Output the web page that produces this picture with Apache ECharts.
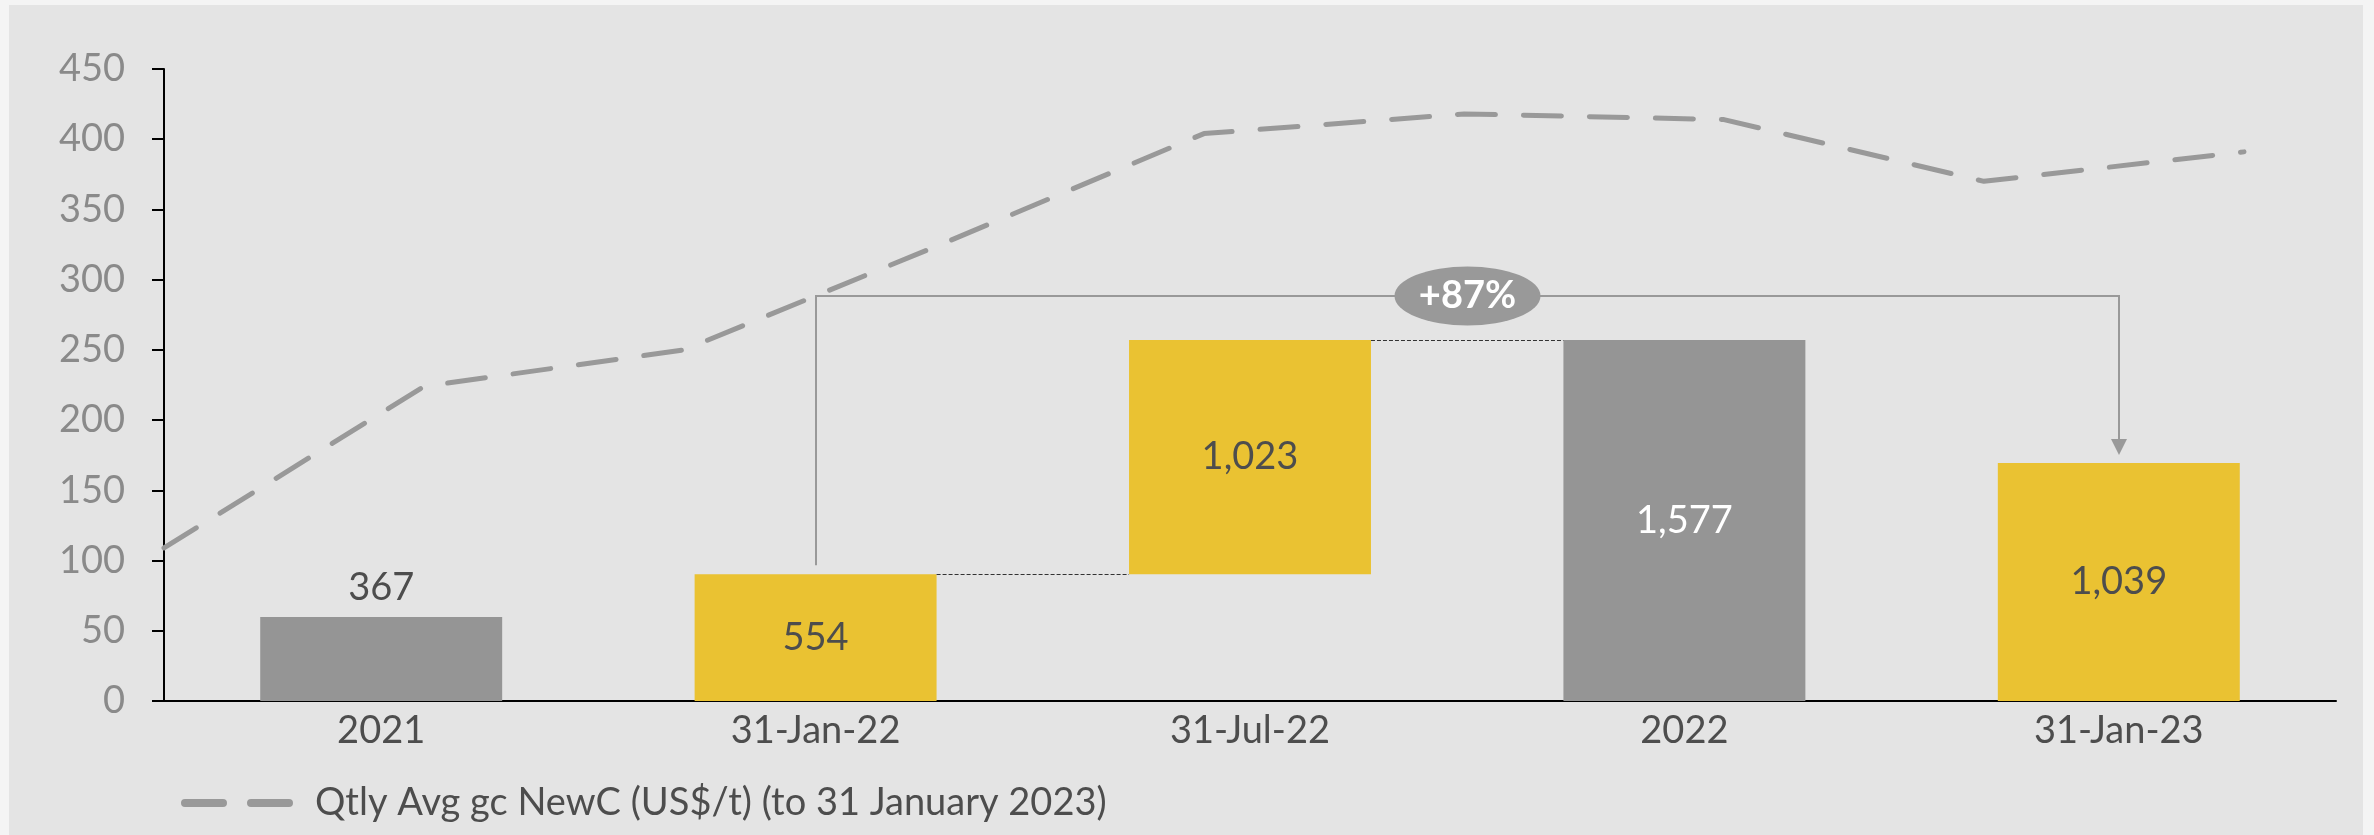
<!DOCTYPE html>
<html>
<head>
<meta charset="utf-8">
<script src="https://cdn.jsdelivr.net/npm/echarts@6/dist/echarts.min.js"></script>
<style>
  html, body { margin: 0; padding: 0; width: 2374px; height: 835px; overflow: hidden; background: #f4f4f4; }
  #panel { position: absolute; left: 9px; top: 5px; width: 2354px; height: 830px; background: #e4e4e4; }
  #chart { position: absolute; left: 0; top: 0; width: 2374px; height: 835px; }
</style>
</head>
<body>
<div id="panel"></div>
<div id="chart"></div>
<script>
// Waterfall categories and bar values (kt)
const categories = ['2021', '31-Jan-22', '31-Jul-22', '2022', '31-Jan-23'];
const barValues  = [367, 554, 1023, 1577, 1039];
const barBase    = [0, 0, 554, 0, 0];
const barKinds   = ['total', 'step', 'step', 'total', 'step'];

// Quarterly average gc NewC price, US$/t
const priceName   = 'Qtly Avg gc NewC (US$/t) (to 31 January 2023)';
const priceValues = [109, 224, 250, 326, 404, 418, 414, 370, 391];

// Left axis ticks
const priceAxisMin = 0;
const priceAxisMax = 450;
const priceAxisStep = 50;

// Change annotation between 31-Jan-22 and 31-Jan-23
const changeFrom  = 1;
const changeTo    = 4;
const changeLabel = '+87%';

const FONT = 'Lato';
const FONT_SIZE = 38;
const GREY = '#959595';
const YELLOW = '#EAC232';
const ANNO = '#999999';
const BAR_WIDTH_RATIO = 0.557;
const PRICE_DASH = [38, 28];

const fmt = v => v.toLocaleString('en-US');

const chart = echarts.init(document.getElementById('chart'), null, { renderer: 'canvas' });

// connectors between consecutive step bars: [fromIndex, level]
const connectorData = [[1, barBase[1] + barValues[1]], [2, barBase[2] + barValues[2]]];

chart.setOption({
  animation: false,
  backgroundColor: 'transparent',
  grid: { left: 164, right: 38, top: 69, bottom: 134, outerBoundsMode: 'none', containLabel: false },
  // legend key for the price line, drawn below the axis
  graphic: [
    {
      type: 'line',
      shape: { x1: 185, y1: 803, x2: 310, y2: 803 },
      style: { stroke: ANNO, lineWidth: 8, lineDash: PRICE_DASH, lineCap: 'round' },
      silent: true
    },
    {
      type: 'text',
      x: 315,
      y: 803,
      style: { text: priceName, font: FONT_SIZE + 'px ' + FONT, fill: '#4d4d4d', verticalAlign: 'middle' },
      silent: true
    }
  ],
  xAxis: [
    {
      type: 'category',
      data: categories,
      axisLine: { show: true, lineStyle: { color: '#000', width: 2 } },
      axisTick: { show: false },
      axisLabel: { fontFamily: FONT, fontSize: FONT_SIZE, color: '#4d4d4d', margin: 11 },
      splitLine: { show: false }
    },
    {
      type: 'value',
      min: 0,
      max: 8.354,
      show: false
    }
  ],
  yAxis: [
    {
      type: 'value',
      min: priceAxisMin,
      max: priceAxisMax,
      interval: priceAxisStep,
      axisLine: { show: true, lineStyle: { color: '#000', width: 2 } },
      axisTick: { show: true, inside: false, length: 12, lineStyle: { color: '#000', width: 2 } },
      axisLabel: { fontFamily: FONT, fontSize: FONT_SIZE, color: '#8a8a8a', margin: 39 },
      splitLine: { show: false }
    },
    {
      type: 'value',
      min: 0,
      max: 2760,
      show: false
    }
  ],
  series: [
    {
      name: 'base',
      type: 'bar',
      stack: 'wf',
      xAxisIndex: 0,
      yAxisIndex: 1,
      barWidth: (BAR_WIDTH_RATIO * 100) + '%',
      itemStyle: { color: 'transparent' },
      emphasis: { disabled: true },
      data: barBase
    },
    {
      name: 'value',
      type: 'bar',
      stack: 'wf',
      xAxisIndex: 0,
      yAxisIndex: 1,
      barWidth: (BAR_WIDTH_RATIO * 100) + '%',
      label: {
        show: true,
        position: 'inside',
        fontFamily: FONT,
        fontSize: FONT_SIZE,
        color: '#4d4d4d',
        formatter: p => fmt(p.value)
      },
      data: barValues.map((v, i) => {
        const isTotal = barKinds[i] === 'total';
        const item = { value: v, itemStyle: { color: isTotal ? GREY : YELLOW } };
        if (i === 0) item.label = { position: 'top', distance: 10 };
        else if (isTotal) item.label = { color: '#ffffff' };
        return item;
      })
    },
    {
      name: 'connectors',
      type: 'custom',
      xAxisIndex: 0,
      yAxisIndex: 1,
      silent: true,
      z: 3,
      data: connectorData,
      renderItem: (params, api) => {
        const i = api.value(0);
        const p = api.coord([i, api.value(1)]);
        const band = api.size([1, 0])[0];
        const half = band * BAR_WIDTH_RATIO / 2;
        const y = Math.round(p[1]) + 0.5;
        return {
          type: 'line',
          shape: { x1: p[0] + half, y1: y, x2: p[0] + band - half, y2: y },
          style: { stroke: '#333', lineWidth: 1, lineDash: [4, 2] }
        };
      }
    },
    {
      name: 'change',
      type: 'custom',
      xAxisIndex: 0,
      yAxisIndex: 1,
      silent: true,
      z: 4,
      data: [[changeFrom, barBase[changeFrom] + barValues[changeFrom], changeTo, barBase[changeTo] + barValues[changeTo]]],
      renderItem: (params, api) => {
        const a = api.coord([api.value(0), api.value(1)]);
        const b = api.coord([api.value(2), api.value(3)]);
        const peak = api.coord([0, Math.max(...barValues.map((v, k) => v + barBase[k]))]);
        const level = peak[1] - 44;
        const x1 = Math.round(a[0]), x2 = Math.round(b[0]);
        const yStart = a[1] - 9;
        const tip = b[1] - 8;
        const mid = (x1 + x2) / 2;
        return {
          type: 'group',
          children: [
            {
              type: 'polyline',
              shape: { points: [[x1, yStart], [x1, level], [x2, level], [x2, tip - 14]] },
              style: { stroke: ANNO, lineWidth: 2, fill: null }
            },
            {
              type: 'polygon',
              shape: { points: [[x2, tip], [x2 - 8, tip - 16], [x2 + 8, tip - 16]] },
              style: { fill: ANNO }
            },
            {
              type: 'circle',
              x: mid, y: level,
              scaleX: 73 / 29.5,
              shape: { cx: 0, cy: 0, r: 29.5 },
              style: { fill: ANNO }
            },
            {
              type: 'text',
              x: mid, y: level,
              style: {
                text: changeLabel,
                fill: '#ffffff',
                font: 'bold 38px ' + FONT,
                align: 'center',
                verticalAlign: 'middle'
              }
            }
          ]
        };
      }
    },
    {
      name: priceName,
      type: 'line',
      xAxisIndex: 1,
      yAxisIndex: 0,
      symbol: 'none',
      z: 5,
      lineStyle: { color: ANNO, width: 5, type: PRICE_DASH, cap: 'round', join: 'round' },
      itemStyle: { color: ANNO },
      data: priceValues.map((v, i) => [i, v])
    }
  ]
});
</script>
</body>
</html>
